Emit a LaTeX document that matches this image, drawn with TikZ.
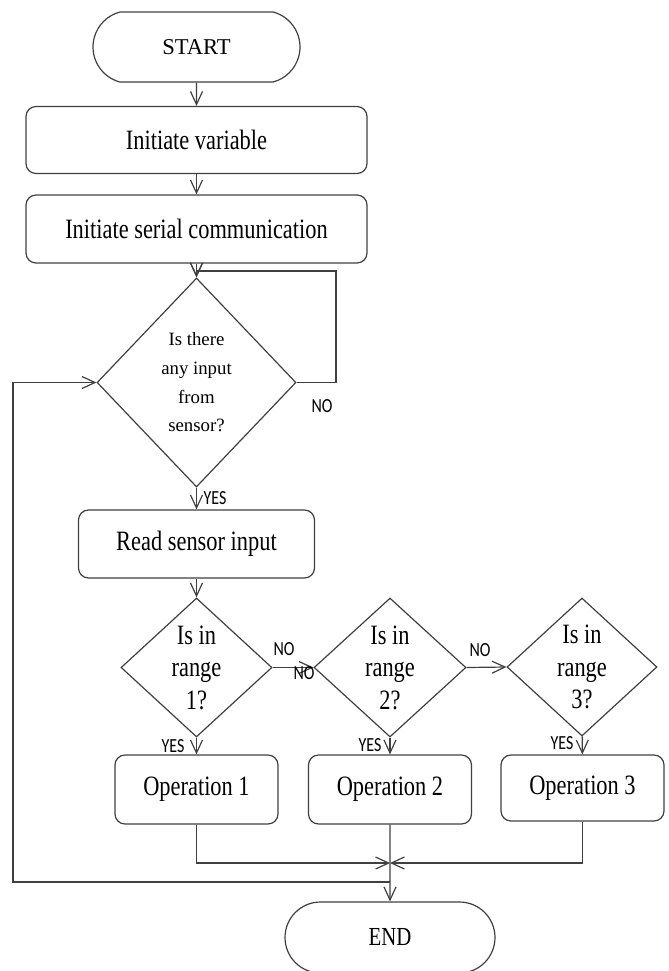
\documentclass[tikz,border=0pt]{standalone}
\usepackage{fontspec}
\setmainfont{Liberation Serif}[FakeStretch=0.8]
\newfontfamily\plainserif{Liberation Serif}
\newfontfamily\labelfont{Carlito}[FakeStretch=0.8]
\usetikzlibrary{shapes.geometric,shapes.misc,arrows.meta}
\definecolor{linegray}{HTML}{404040}
\tikzset{
  flow/.style={draw=linegray,line width=0.6pt,-{Straight Barb[length=6.5pt,width=6pt]}},
  link/.style={draw=linegray,line width=0.6pt},
  box/.style={draw=linegray,line width=0.6pt,rectangle,rounded corners=5pt,inner sep=0pt,
    font=\fontsize{14}{16}\selectfont},
  term/.style={draw=linegray,line width=0.6pt,rounded rectangle,inner sep=0pt},
  choice/.style={draw=linegray,line width=0.6pt,diamond,inner sep=0pt,align=center,
    font=\fontsize{14}{16.25}\selectfont},
  lbl/.style={font=\labelfont\fontsize{10}{12}\selectfont,inner sep=0pt},
}
\begin{document}
\begin{tikzpicture}[x=0.5pt,y=-0.5pt]
  \useasboundingbox (0,0) rectangle (669,971);
  % main column
  \node[term,rounded rectangle arc length=150,minimum width=103.5pt,minimum height=35pt,
    font=\plainserif\fontsize{11.3}{13}\selectfont] (start) at (196.5,47) {START};
  \node[box,minimum width=170.5pt,minimum height=33.5pt] (initvar) at (196.5,140) {Initiate variable};
  \node[box,minimum width=170.5pt,minimum height=34pt] (serial) at (196.5,229) {Initiate serial communication};
  \node[choice,minimum width=99.5pt,minimum height=104.5pt,
    font=\plainserif\fontsize{9.4}{14.3}\selectfont] (input) at (196.5,382.5) {Is there\\any input\\from\\sensor?};
  \node[box,minimum width=118pt,minimum height=34pt] (read) at (196.5,544) {Read sensor input};
  % range checks
  \node[choice,minimum width=75.5pt,minimum height=69.5pt] (range1) at (196.5,667.5) {Is in\\range\\1?};
  \node[choice,minimum width=76pt,minimum height=69.5pt] (range2) at (390,667.5) {Is in\\range\\2?};
  \node[choice,minimum width=75pt,minimum height=69pt] (range3) at (582,667) {Is in\\range\\3?};
  % operations
  \node[box,minimum width=81.5pt,minimum height=34.5pt] (op1) at (196.5,789.5) {Operation 1};
  \node[box,minimum width=81.5pt,minimum height=34.5pt] (op2) at (390,789.5) {Operation 2};
  \node[box,minimum width=81.5pt,minimum height=33pt] (op3) at (582.5,788) {Operation 3};
  \node[term,minimum width=105pt,minimum height=35.5pt,
    font=\fontsize{13}{15}\selectfont] (stop) at (390,937.5) {END};
  % helper points
  \coordinate (loopR) at (336,271);
  \coordinate (merge) at (390,863);
  \coordinate (loopL) at (13,882);
  % connectors
  \draw[flow] (start) -- (initvar);
  \draw[flow] (initvar) -- (serial);
  \draw[flow] (serial) -- (input);
  \draw[flow] (input.east) -| (loopR) -- (input.north |- loopR) -- (input.north);
  \draw[flow] (input) -- (read);
  \draw[flow] (read) -- (range1);
  \draw[flow] (range1) -- (op1);
  \draw[flow] (range2) -- (op2);
  \draw[flow] (range3) -- (op3);
  \draw[flow] (range1.east) -- (range2.west);
  \draw[flow] (range2.east) -- (range3.west);
  \draw[flow] (op1) |- (merge);
  \draw[flow] (op3) |- (merge);
  \draw[flow] (op2) -- (stop);
  \draw[flow] (op2 |- loopL) -- (loopL) |- (input.west);
  % NO / YES labels
  \node[lbl] (no0) at (322,406) {NO};
  \node[lbl] (yes0) at (215,498) {YES};
  \node[lbl] (no1) at (284,649) {NO};
  \node[lbl] (no1b) at (304,673) {NO};
  \node[lbl] (no2) at (480,650) {NO};
  \node[lbl] (yes1) at (173,746) {YES};
  \node[lbl] (yes2) at (370,745) {YES};
  \node[lbl] (yes3) at (562,743) {YES};
\end{tikzpicture}
\end{document}
